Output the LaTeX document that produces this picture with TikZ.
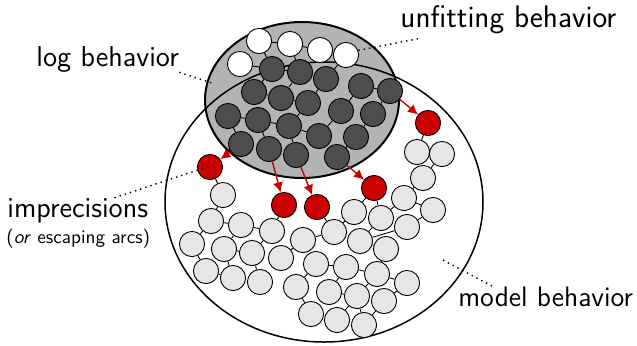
\documentclass[tikz,border=0pt]{standalone}
\usepackage{tikz}
\usetikzlibrary{shapes,arrows.meta,calc,positioning}
\definecolor{logfill}{HTML}{B3B3B3}
\definecolor{seenfill}{HTML}{4D4D4D}
\definecolor{allowfill}{HTML}{E6E6E6}
\definecolor{escfill}{HTML}{CC0000}
\tikzset{
    auto,
    logbeh/.style ={draw, line width=1pt, fill=logfill},
    modelbeh/.style ={draw, line width=0.75pt},
    act/.style = {circle, draw, line width=0.45pt, minimum size=12.6pt, inner sep=0pt},
    seen/.style = {act, fill=seenfill},
    unseen/.style = {act, fill=white},
    allowed/.style = {act, fill=allowfill},
    escaped/.style = {act, fill=escfill},
    link/.style = {line width=0.45pt},
    escape/.style = {-{Latex[length=5pt,width=5pt]}, draw=escfill, line width=0.7pt},
    leader/.style = {dotted, line width=0.7pt},
    lbl/.style = {inner sep=0pt, anchor=base west, font=\sffamily\fontsize{14.4}{17}\selectfont},
    sublbl/.style = {inner sep=0pt, anchor=base west, font=\sffamily\fontsize{9.6}{12}\selectfont}
}

\begin{document}
\begin{tikzpicture}[x=0.5pt, y=-0.5pt]
    \useasboundingbox (0,0) rectangle (637,345);

    % the two sets of behavior
    \path[logbeh] (302,100) ellipse [x radius=97, y radius=78];
    \path[modelbeh] (324,202) ellipse [x radius=159, y radius=140];

    % traces only seen in the log
    \foreach \n/\x/\y in {1/259/41, 2/290/44, 3/320/50, 4/346/55, 5/240/64}
        \node[unseen] (w\n) at (\x,\y) {};

    % traces seen in the log and allowed by the model
    \foreach \n/\x/\y in {1/272/69, 2/300/72, 3/326/79, 4/361/86, 5/390/91,
                          6/254/92, 7/281/98, 8/308/103, 9/341/111, 10/373/114,
                          11/228/116, 12/258/120, 13/289/126, 14/319/136, 15/356/137,
                          16/241/144, 17/269/149, 18/296/155, 19/337/157}
        \node[seen] (d\n) at (\x,\y) {};

    % escaping arcs
    \foreach \n/\x/\y in {1/428/123, 2/210/167, 3/284/205, 4/317/207, 5/374/188}
        \node[escaped] (r\n) at (\x,\y) {};

    % the rest of the model
    \foreach \n/\x/\y in {1/417/152, 2/442/154, 3/423/178, 4/404/198, 5/433/210,
                          6/354/212, 7/381/218, 8/407/227, 9/334/232, 10/360/241,
                          11/386/249, 12/303/240, 13/281/258, 14/316/264, 15/346/267,
                          16/377/274, 17/407/283, 18/296/287, 19/329/292, 20/357/296,
                          21/384/301, 22/311/314, 23/337/320, 24/364/325,
                          25/223/195, 26/211/221, 27/241/225, 28/272/231, 29/192/244,
                          30/224/249, 31/252/253, 32/206/271, 33/233/278, 34/260/282}
        \node[allowed] (m\n) at (\x,\y) {};

    % links between neighbouring traces
    \foreach \a/\b in {w1/w2, w2/w3, w3/w4, w1/d1, w5/d1, w2/d2, w4/d3,
                       d1/d2, d1/d6, d2/d7, d3/d8, d2/d3, d4/d5, d4/d9, d5/d10,
                       d6/d7, d7/d8, d11/d12, d12/d13, d11/d16, d12/d17, d13/d18,
                       d13/d14, d9/d14, d10/d15, d15/d19, d8/d13,
                       r1/m1, r2/m25, r3/m28, r4/m9, r5/m6, r5/m7,
                       m1/m2, m2/m3, m3/m4, m4/m7, m4/m5, m6/m9, m7/m10, m10/m8,
                       m8/m5, m10/m11, m9/m12, m12/m13, m14/m15, m15/m16, m14/m18,
                       m15/m19, m16/m20, m16/m17, m18/m22, m19/m20, m20/m23,
                       m20/m24, m21/m24, m17/m21, m11/m16,
                       m25/m26, m26/m27, m27/m28, m26/m29, m27/m30, m29/m32,
                       m30/m31, m30/m33, m31/m34, m32/m33, m28/m31}
        \draw[link] (\a) -- (\b);

    % Escaping edge
    \path (d5) edge[escape] (r1);
    \path (d16) edge[escape] (r2);
    \path (d17) edge[escape] (r3);
    \path (d18) edge[escape] (r4);
    \path (d19) edge[escape] (r5);

    % labels
    \node[lbl, font=\sffamily\fontsize{15.6}{18}\selectfont] (unfit) at (400,27) {unfitting behavior};
    \node[lbl] (log) at (36,66) {log behavior};
    \node[lbl] (imp) at (7,217) {imprecisions};
    \node[sublbl] (esc) at (6,243) {(\textit{or} escaping arcs)};
    \node[lbl, font=\sffamily\fontsize{14.1}{17}\selectfont] (model) at (458,306) {model behavior};

    % leaders
    \coordinate (unfitTip) at (355,51);
    \coordinate (logTip) at (215,84);
    \coordinate (impTip) at (216,164);
    \coordinate (modelTip) at (441,259);
    \draw[leader] ([shift={(18,5)}]unfit.south west) -- (unfitTip);
    \draw[leader] (log.south east) -- (logTip);
    \draw[leader] ([xshift=-17pt]imp.north east) -- (impTip);
    \draw[leader] ([xshift=17pt]model.north west) -- (modelTip);
\end{tikzpicture}
\end{document}
